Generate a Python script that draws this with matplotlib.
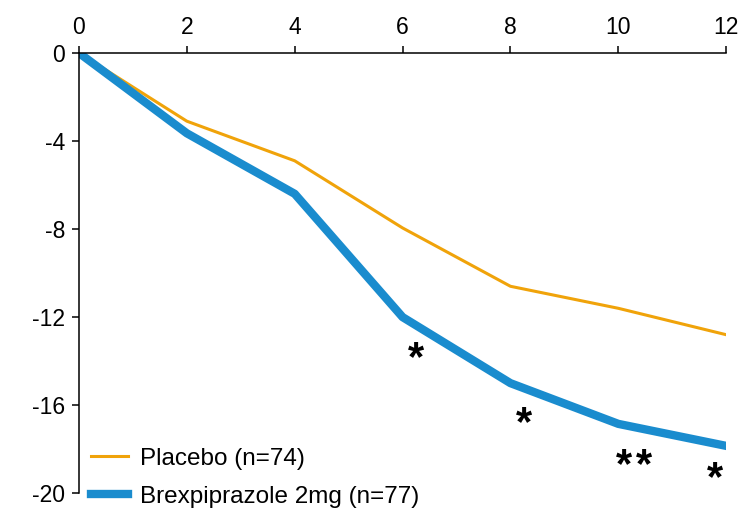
import matplotlib.pyplot as plt

plt.rcParams['font.family'] = ['Liberation Sans', 'DejaVu Sans']
plt.rcParams['axes.unicode_minus'] = False

# ----------------------------------------------------------------------
# Data
# ----------------------------------------------------------------------
weeks = [0, 2, 4, 6, 8, 10, 12]
placebo = [0, -3.1, -4.9, -7.95, -10.6, -11.6, -12.8]
brex = [0, -3.65, -6.4, -12.0, -15.0, -16.85, -17.85]

# significance marks (the "**" at week 10 is drawn as two stars)
sig_x = [6.25, 8.25, 10.10, 10.48, 11.80]
sig_y = [-13.57, -16.49, -18.43, -18.43, -19.01]
sig_labels = ['*', '*', '*', '*', '*']

# ----------------------------------------------------------------------
# Plot
# ----------------------------------------------------------------------
fig = plt.figure(figsize=(7.38, 5.09), dpi=100)
ax = fig.add_axes([0.107, 0.031, 0.877, 0.865])

ax.plot(weeks, placebo, color='#F0A30A', lw=2.2, label='Placebo (n=74)')
ax.plot(weeks, brex, color='#1A8CCE', lw=6, label='Brexpiprazole 2mg (n=77)')

for x, y, s in zip(sig_x, sig_y, sig_labels):
    ax.annotate(s, (x, y), xytext=(0, -5.5), textcoords='offset points',
                fontsize=30, fontweight='bold', ha='center', va='center')

ax.set_xlim(0, 12)
ax.set_ylim(-20, 0)
ax.set_xticks(range(0, 13, 2))
ax.set_yticks(range(-20, 1, 4))
ax.xaxis.tick_top()
ax.tick_params(labelsize=16.5, width=1.1, length=5, direction='out', pad=5)
for side in ['right', 'bottom']:
    ax.spines[side].set_visible(False)
for side in ['left', 'top']:
    ax.spines[side].set_linewidth(1.1)

ax.legend(loc='lower left', frameon=False, fontsize=17.5, handlelength=1.52,
          handletextpad=0.5, borderaxespad=0.0, labelspacing=0.65,
          bbox_to_anchor=(0.004, -0.055))

fig.savefig('out.png', dpi=100)
